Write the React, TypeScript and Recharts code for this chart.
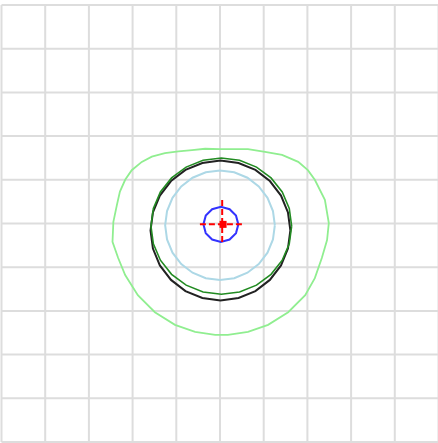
import React from 'react';
import { ScatterChart, Scatter, XAxis, YAxis, CartesianGrid } from 'recharts';

// Grid ticks (data units)
const gridTicks = [-5, -4, -3, -2, -1, 0, 1, 2, 3, 4, 5];

// Outer irregular light-green contour
const outerContour = [
  { x: 0, y: 1.7 }, { x: 0.64, y: 1.7 }, { x: 1.03, y: 1.64 }, { x: 1.42, y: 1.57 },
  { x: 1.79, y: 1.41 }, { x: 2.01, y: 1.22 }, { x: 2.17, y: 1.0 }, { x: 2.4, y: 0.54 },
  { x: 2.49, y: 0.01 }, { x: 2.45, y: -0.38 }, { x: 2.33, y: -0.79 }, { x: 2.17, y: -1.25 },
  { x: 1.95, y: -1.64 }, { x: 1.56, y: -2.03 }, { x: 1.1, y: -2.32 }, { x: 0.64, y: -2.48 },
  { x: 0.18, y: -2.55 }, { x: -0.11, y: -2.55 }, { x: -0.57, y: -2.48 }, { x: -1.03, y: -2.32 },
  { x: -1.49, y: -2.03 }, { x: -1.88, y: -1.64 }, { x: -2.17, y: -1.18 }, { x: -2.33, y: -0.79 },
  { x: -2.46, y: -0.42 }, { x: -2.44, y: 0.04 }, { x: -2.36, y: 0.42 }, { x: -2.29, y: 0.73 },
  { x: -2.17, y: 1.0 }, { x: -2.02, y: 1.22 }, { x: -1.79, y: 1.41 }, { x: -1.56, y: 1.53 },
  { x: -1.26, y: 1.61 }, { x: -0.95, y: 1.65 }, { x: -0.64, y: 1.68 }, { x: -0.34, y: 1.71 },
  { x: 0, y: 1.7 },
];

// Black ring
const blackRing = [
  { x: 1.61, y: -0.16 }, { x: 1.555, y: 0.254 }, { x: 1.396, y: 0.64 }, { x: 1.141, y: 0.971 },
  { x: 0.81, y: 1.226 }, { x: 0.424, y: 1.385 }, { x: 0.01, y: 1.44 }, { x: -0.404, y: 1.385 },
  { x: -0.79, y: 1.226 }, { x: -1.121, y: 0.971 }, { x: -1.376, y: 0.64 }, { x: -1.535, y: 0.254 },
  { x: -1.59, y: -0.16 }, { x: -1.535, y: -0.574 }, { x: -1.376, y: -0.96 }, { x: -1.121, y: -1.291 },
  { x: -0.79, y: -1.546 }, { x: -0.404, y: -1.705 }, { x: 0.01, y: -1.76 }, { x: 0.424, y: -1.705 },
  { x: 0.81, y: -1.546 }, { x: 1.141, y: -1.291 }, { x: 1.396, y: -0.96 }, { x: 1.555, y: -0.574 },
  { x: 1.61, y: -0.16 },
];

// Dark green ring
const greenRing = [
  { x: 1.64, y: -0.06 }, { x: 1.585, y: 0.344 }, { x: 1.424, y: 0.72 }, { x: 1.168, y: 1.043 },
  { x: 0.835, y: 1.291 }, { x: 0.447, y: 1.447 }, { x: 0.03, y: 1.5 }, { x: -0.387, y: 1.447 },
  { x: -0.775, y: 1.291 }, { x: -1.108, y: 1.043 }, { x: -1.364, y: 0.72 }, { x: -1.525, y: 0.344 },
  { x: -1.58, y: -0.06 }, { x: -1.525, y: -0.464 }, { x: -1.364, y: -0.84 }, { x: -1.108, y: -1.163 },
  { x: -0.775, y: -1.411 }, { x: -0.387, y: -1.567 }, { x: 0.03, y: -1.62 }, { x: 0.447, y: -1.567 },
  { x: 0.835, y: -1.411 }, { x: 1.168, y: -1.163 }, { x: 1.424, y: -0.84 }, { x: 1.585, y: -0.464 },
  { x: 1.64, y: -0.06 },
];

// Light blue ring
const lightBlueRing = [
  { x: 1.255, y: -0.04 }, { x: 1.212, y: 0.285 }, { x: 1.087, y: 0.588 }, { x: 0.887, y: 0.847 },
  { x: 0.628, y: 1.047 }, { x: 0.325, y: 1.172 }, { x: 0, y: 1.215 }, { x: -0.325, y: 1.172 },
  { x: -0.628, y: 1.047 }, { x: -0.887, y: 0.847 }, { x: -1.087, y: 0.588 }, { x: -1.212, y: 0.285 },
  { x: -1.255, y: -0.04 }, { x: -1.212, y: -0.365 }, { x: -1.087, y: -0.668 }, { x: -0.887, y: -0.927 },
  { x: -0.628, y: -1.127 }, { x: -0.325, y: -1.252 }, { x: 0, y: -1.295 }, { x: 0.325, y: -1.252 },
  { x: 0.628, y: -1.127 }, { x: 0.887, y: -0.927 }, { x: 1.087, y: -0.668 }, { x: 1.212, y: -0.365 },
  { x: 1.255, y: -0.04 },
];

// Small blue ring
const blueRing = [
  { x: 0.42, y: -0.02 }, { x: 0.366, y: 0.18 }, { x: 0.22, y: 0.326 }, { x: 0.02, y: 0.38 },
  { x: -0.18, y: 0.326 }, { x: -0.326, y: 0.18 }, { x: -0.38, y: -0.02 }, { x: -0.326, y: -0.22 },
  { x: -0.18, y: -0.366 }, { x: 0.02, y: -0.42 }, { x: 0.22, y: -0.366 }, { x: 0.366, y: -0.22 },
  { x: 0.42, y: -0.02 },
];

// Red crosshair and centre marker
const crossH = [{ x: -0.46, y: -0.02 }, { x: 0.57, y: -0.02 }];
const crossV = [{ x: 0.05, y: 0.54 }, { x: 0.05, y: -0.49 }];
const centre = [{ x: 0.07, y: -0.02 }];

const noDot = () => <g />;
const noTick = () => <g />;
const redSquare = (props: any) => (
  <rect x={props.cx - 3.5} y={props.cy - 3.5} width={7} height={7} fill="#ff0000" />
);

export default function App() {
  return (
    <div style={{ position: 'absolute', left: 0, top: 0 }}>
      <ScatterChart
        width={440}
        height={443}
        margin={{ top: 5, right: 1.5, bottom: 1, left: 1.5 }}
      >
        <CartesianGrid stroke="#dddddd" strokeWidth={2} />
        <XAxis
          type="number"
          dataKey="x"
          domain={[-5, 5]}
          ticks={gridTicks}
          interval={0}
          height={0}
          tick={noTick}
          axisLine={false}
          tickLine={false}
          allowDataOverflow
        />
        <YAxis
          type="number"
          dataKey="y"
          domain={[-5, 5]}
          ticks={gridTicks}
          interval={0}
          width={0}
          tick={noTick}
          axisLine={false}
          tickLine={false}
          allowDataOverflow
        />
        <Scatter data={outerContour} line={{ stroke: '#90ee90', strokeWidth: 1.8 }} lineType="joint" shape={noDot} isAnimationActive={false} />
        <Scatter data={blackRing} line={{ stroke: '#222222', strokeWidth: 2 }} lineType="joint" shape={noDot} isAnimationActive={false} />
        <Scatter data={greenRing} line={{ stroke: '#228b22', strokeWidth: 1.6 }} lineType="joint" shape={noDot} isAnimationActive={false} />
        <Scatter data={lightBlueRing} line={{ stroke: '#add8e6', strokeWidth: 2 }} lineType="joint" shape={noDot} isAnimationActive={false} />
        <Scatter data={blueRing} line={{ stroke: '#3333ff', strokeWidth: 2 }} lineType="joint" shape={noDot} isAnimationActive={false} />
        <Scatter data={crossH} line={{ stroke: '#ff0000', strokeWidth: 2, strokeDasharray: '6 3' }} lineType="joint" shape={noDot} isAnimationActive={false} />
        <Scatter data={crossV} line={{ stroke: '#ff0000', strokeWidth: 2, strokeDasharray: '6 3' }} lineType="joint" shape={noDot} isAnimationActive={false} />
        <Scatter data={centre} shape={redSquare} isAnimationActive={false} />
      </ScatterChart>
    </div>
  );
}
